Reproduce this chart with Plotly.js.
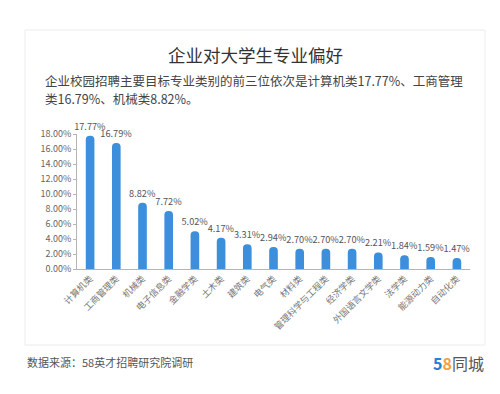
<!DOCTYPE html>
<html><head><meta charset="utf-8">
<script src="https://cdn.plot.ly/plotly-3.0.1.min.js"></script>
<style>html,body{margin:0;padding:0;background:#fff;}#chart{width:500px;height:394px;}</style>
</head><body><div id="chart"></div>
<script>
const categories = ["计算机类","工商管理类","机械类","电子信息类","金融学类","土木类","建筑类","电气类","材料类","管理科学与工程类","经济学类","外国语言文学类","法学类","能源动力类","自动化类"];
const values = [17.77,16.79,8.82,7.72,5.02,4.17,3.31,2.94,2.70,2.70,2.70,2.21,1.84,1.59,1.47];
const labels = values.map(v => v.toFixed(2) + "%");
const yTicks = [0,2,4,6,8,10,12,14,16,18];
const yTickText = yTicks.map(v => v.toFixed(2) + "%");

const F = "'Noto Sans CJK SC', 'Noto Sans', sans-serif";
// plot area in px: x 77..470, y 134..269
const L=77, R=470, T=134, B=269;
const px = x => (x-L)/(R-L);
const py = y => (B-y)/(B-T);

const trace = {
  type:"bar", x:categories, y:values, text:labels, textposition:"outside", constraintext:"none",
  textfont:{family:F,size:9.2,color:"#555"}, cliponaxis:false,
  marker:{color:"#3d8fdc", cornerradius:"50%"}, width:0.33, hoverinfo:"none"
};
const layout = {
  width:500, height:394, paper_bgcolor:"#fff", plot_bgcolor:"rgba(0,0,0,0)",
  margin:{l:L, r:500-R, t:T, b:394-B, pad:0},
  showlegend:false, font:{family:F,color:"#555"},
  xaxis:{type:"category", range:[-0.5,14.5], showline:true, linecolor:"#b5b5b5", linewidth:1,
    ticks:"", tickangle:-45, tickfont:{family:F,size:9,color:"#777"}, showgrid:false, zeroline:false, fixedrange:true},
  yaxis:{range:[0,18], tickvals:yTicks, ticktext:yTickText, showline:true, linecolor:"#b5b5b5", linewidth:1,
    ticks:"outside", ticklen:3, tickcolor:"#b5b5b5", tickfont:{family:F,size:9,color:"#666"},
    showgrid:false, zeroline:false, fixedrange:true},
  shapes:[{type:"rect", xref:"paper", yref:"paper", x0:px(25), x1:px(485), y0:py(345), y1:py(30),
    fillcolor:"#fff", line:{color:"#ececec", width:1}, layer:"below"}],
  annotations:[
    {xref:"paper", yref:"paper", x:px(255), y:py(55), text:"企业对大学生专业偏好", showarrow:false,
      xanchor:"center", yanchor:"middle", font:{family:F,size:17.5,color:"#333"}},
    {xref:"paper", yref:"paper", x:px(44), y:py(80.5), text:"企业校园招聘主要目标专业类别的前三位依次是计算机类17.77%、工商管理",
      showarrow:false, align:"left", xanchor:"left", yanchor:"middle", borderpad:0, font:{family:F,size:12.5,color:"#444"}},
    {xref:"paper", yref:"paper", x:px(44), y:py(98), text:"类16.79%、机械类8.82%。",
      showarrow:false, align:"left", xanchor:"left", yanchor:"middle", borderpad:0, font:{family:F,size:12.5,color:"#444"}},
    {xref:"paper", yref:"paper", x:px(25), y:py(362), text:"数据来源：58英才招聘研究院调研", showarrow:false,
      xanchor:"left", yanchor:"middle", font:{family:F,size:11,color:"#555"}},
    {xref:"paper", yref:"paper", x:px(486), y:py(363), text:"<b><span style='color:#2a7fd4'>5</span><span style='color:#f2a33a'>8</span></b><span style='color:#555'>同城</span>", showarrow:false,
      xanchor:"right", yanchor:"middle", font:{family:F,size:16,color:"#555"}}
  ]
};
Plotly.newPlot("chart",[trace],layout,{displayModeBar:false,staticPlot:true});
</script></body></html>
